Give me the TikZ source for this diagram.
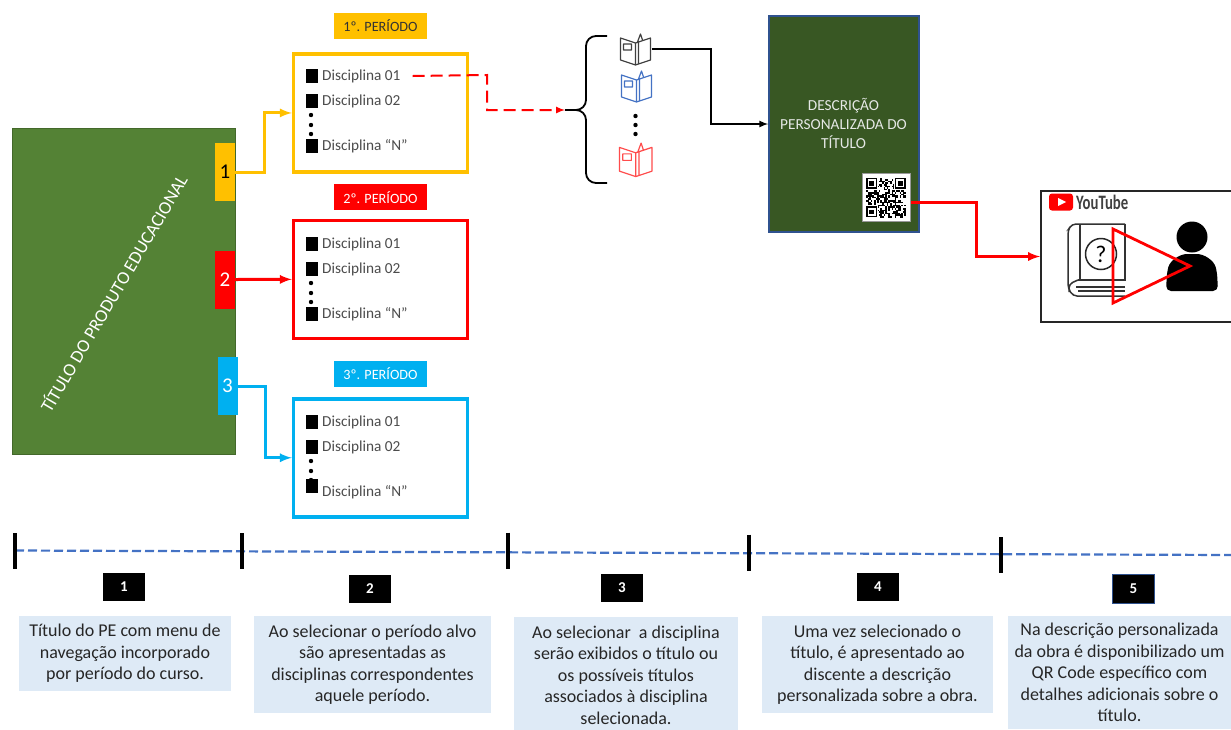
\documentclass[tikz,border=0pt]{standalone}
\usepackage{fontspec}
\setmainfont{Carlito}
\usetikzlibrary{arrows,shapes,positioning}
\usetikzlibrary{calc}
\definecolor{capagreen}{HTML}{548235}
\definecolor{descgreen}{HTML}{385723}
\definecolor{descedge}{HTML}{2F528F}
\definecolor{amarelo}{HTML}{FFC000}
\definecolor{azulclaro}{HTML}{00B0F0}
\definecolor{vermelho}{HTML}{FF0000}
\definecolor{linhaazul}{HTML}{4472C4}
\definecolor{fundoinfo}{HTML}{DEEAF6}
\definecolor{textoinfo}{HTML}{262626}
\tikzstyle{tab} = [
  rectangle, minimum width = 20pt, minimum height = 58pt, inner sep = 0pt,
  font = \fontsize{21}{21}\selectfont
]
\tikzstyle{periodo} = [
  rectangle, minimum width = 93pt, minimum height = 26pt, inner sep = 0pt,
  font = \fontsize{14.2}{14.2}\selectfont
]
\tikzstyle{lista} = [
  rectangle, draw, line width = 3.5pt, minimum width = 174pt, minimum height = 118pt
]
\tikzstyle{disc} = [
  anchor = west, inner sep = 0pt, text = black!70, font = \fontsize{15.3}{15.3}\selectfont
]
\tikzstyle{numero} = [
  rectangle, fill = black, text = white, minimum width = 42pt, minimum height = 28pt,
  inner sep = 0pt, font = \bfseries\fontsize{15}{15}\selectfont
]
\tikzstyle{info} = [
  rectangle, fill = fundoinfo, text = textoinfo, align = center, inner sep = 0pt,
  font = \fontsize{18}{21.5}\selectfont
]
\tikzset{
  bookicon/.pic = {
    \draw[#1, line width = 1.2pt, line join = round]
      (0,5) -- (15,10) -- (15,32) -- (0,27) -- cycle
      (15,10) -- (30,5) -- (30,27) -- (15,32)
      (18,9) -- (18,31)
      (3,11) rectangle (11,17)
      (17,9) -- (20,1) -- (22,7);
  }
}
\begin{document}
\begin{tikzpicture}[x=1pt, y=-1pt]
  \clip (0,0) rectangle (1231,729);
  \fill[white] (0,0) rectangle (1231,729);

  % capa
  \node[rectangle, fill=capagreen, draw=capagreen!80!black, minimum width=223pt, minimum height=326pt, inner sep=0pt] (capa) at (123.5,291) {};
  \node[rotate=59.5, text=white, font=\fontsize{18.2}{18.2}\selectfont] (titulo) at (113,293) {TÍTULO DO PRODUTO EDUCACIONAL};
  \node[tab, fill=amarelo] (tab1) at (225,172) {1};
  \node[tab, fill=vermelho, text=white] (tab2) at (225,279.5) {2};
  \node[tab, fill=azulclaro, text=white] (tab3) at (227.5,386) {3};

  % periodos
  \node[periodo, fill=amarelo, text=black!80] (per1) at (380.5,26) {1º. PERÍODO};
  \node[periodo, fill=vermelho, text=white, below=145pt of per1] (per2) {2º. PERÍODO};
  \node[periodo, fill=azulclaro, text=white, below=150pt of per2] (per3) {3º. PERÍODO};
  \node[lista, draw=amarelo, below=13pt of per1] (box1) {};
  \node[lista, draw=vermelho, below=8pt of per2] (box2) {};
  \node[lista, draw=azulclaro, below=10pt of per3] (box3) {};

  \foreach \nam/\y/\n/\q in {a/75/145/146, b/243/313/314, c/421/491/486} {
    \node[disc] (\nam1) at (322,\y+1) {Disciplina 01};
    \node[disc] (\nam2) at (322,\y+26) {Disciplina 02};
    \node[disc] (\nam3) at (322,\n+1) {Disciplina “N”};
    \fill (312,\y+1) +(-6,-7) rectangle +(6,7);
    \fill (312,\y+26) +(-6,-7) rectangle +(6,7);
    \fill (312,\q) +(-6,-7) rectangle +(6,7);
    \foreach \d in {40,50,59} \fill (311,\y+\d) circle (2.2);
  }

  \draw[-latex, amarelo, line width=3pt] (tab1.east) -- ++(29,0) |- (box1.west);
  \draw[-latex, vermelho, line width=3pt] (tab2.east) -- (box2.west);
  \draw[-latex, azulclaro, line width=3pt] (tab3.east) -- ++(28,0) |- (box3.west);

  % livros
  \coordinate (chave) at (565,110);
  \draw[black, line width=1.8pt] (607,36) -- (596,36) to[out=180, in=90] (586,46) -- (586,100) to[out=-90, in=0] (576,110) -- (chave) (576,110) to[out=0, in=90] (586,120) -- (586,173) to[out=-90, in=180] (596,183) -- (607,183);
  \node[inner sep=0pt, minimum size=32pt] (liv1) at (636,49) {};
  \pic at (620.5,33) {bookicon=black!75};
  \pic at (621.5,70) {bookicon=linhaazul};
  \pic[scale=1.08] at (619.5,142) {bookicon=red!70!white};
  \foreach \y in {116,125,134} \fill (635.5,\y) circle (2.2);

  \draw[-latex, vermelho, line width=2pt, dash pattern=on 12pt off 6pt] ([xshift=12pt]a1.east) -- (487,75) -- (487,110) -- (chave);

  % descricao
  \node[rectangle, fill=descgreen, draw=descedge, line width=1.5pt, minimum width=150pt, minimum height=216pt, inner sep=0pt] (desc) at (844,124) {};
  \node[text=green!10!black!10!white, align=center, font=\fontsize{15.3}{19}\selectfont] (desctxt) at (843.5,123) {DESCRIÇÃO\\PERSONALIZADA DO\\TÍTULO};
  \node[rectangle, fill=white, draw=black!40, line width=1pt, minimum size=48pt, inner sep=0pt] (qr) at (886,197.5) {};
  \begin{scope}[shift={(866,177.5)}]
    \pgfmathsetseed{11}
    \foreach \i in {0,...,24} \foreach \j in {0,...,24} {
      \pgfmathtruncatemacro{\cheio}{rnd<0.5 ? 1 : 0}
      \ifnum\cheio=1 \fill (\i*1.6,\j*1.6) rectangle ++(1.6,1.6); \fi
    }
    \foreach \i/\j in {0/0, 28.8/0, 0/28.8} {
      \fill[white] (\i-1,\j-1) rectangle ++(13,13);
      \draw[line width=1.5pt] (\i+0.8,\j+0.8) rectangle ++(9.6,9.6);
      \fill (\i+3.2,\j+3.2) rectangle ++(4.8,4.8);
    }
  \end{scope}

  \draw[-latex, line width=2pt] (liv1.east) -- (711,49) |- (desc.west);

  % video
  \node[rectangle, draw=black!85, fill=white, line width=2pt, minimum width=210pt, minimum height=131pt, inner sep=0pt] (video) at (1146,256.5) {};
  \draw[-latex, vermelho, line width=3pt] (qr.east) ++(0,4.5) -- (976,202) |- (video.west);
  \node[rectangle, fill=red, rounded corners=3pt, minimum width=24pt, minimum height=17pt, inner sep=0pt] (ytlogo) at (1061,202) {};
  \fill[white] (1058,198) -- (1066,202) -- (1058,206) -- cycle;
  \node[anchor=west, inner sep=0pt, text=black!75, xscale=.72, font=\bfseries\fontsize{20.5}{20.5}\selectfont] (ytnome) at (1076,202.5) {YouTube};
  % livro com pergunta
  \draw[black!80, line width=1.5pt, rounded corners=4pt] (1125,224) -- (1072,224) -- (1068,230) -- (1068,288) -- (1073,296) -- (1125,296);
  \draw[black!80, line width=1.5pt] (1080,224) -- (1080,280) (1125,224) -- (1125,280) -- (1078,280) (1125,287) -- (1076,287) (1125,291) -- (1078,291);
  \draw[black!80, line width=1.5pt, rounded corners=4pt] (1078,280) -- (1069,284) -- (1069,292);
  \node[circle, draw=black!85, line width=1.5pt, minimum size=31pt, inner sep=0pt, font=\fontsize{24}{24}\selectfont] (pergunta) at (1101,254) {?};
  % pessoa
  \fill (1192,237) circle (15.5);
  \fill[rounded corners=5pt] (1166,291) -- (1167,272) to[out=75, in=180] (1192,254) to[out=0, in=105] (1217,272) -- (1218,291) -- cycle;
  \draw[vermelho, line width=2.8pt] (1113,229) -- (1190,266) -- (1113,303) -- cycle;

  % linha do tempo
  \draw[linhaazul, line width=2.2pt, dash pattern=on 9pt off 4pt] (15,550.5) -- (1231,555);
  \foreach \x/\y in {15/551, 242/551, 508/550.5, 749/552.5, 1001/555}
    \draw[black, line width=3.5pt] (\x,\y-18) -- (\x,\y+18);

  \node[numero] (num1) at (124,587) {1};
  \node[numero] (num2) at (370,589) {2};
  \node[numero] (num3) at (622,587.5) {3};
  \node[numero] (num4) at (878,587) {4};
  \node[numero, draw=descedge, line width=1pt, minimum height=29pt] (num5) at (1133.5,588.5) {5};

  \node[info, minimum width=212pt, minimum height=75pt] (inf1) at (125,653.5) {Título do PE com menu de\\navegação incorporado\\por período do curso.};
  \node[info, minimum width=237pt, minimum height=97pt] (inf2) at (372.5,664.5) {Ao selecionar o período alvo\\são apresentadas as\\disciplinas correspondentes\\aquele período.};
  \node[info, minimum width=224pt, minimum height=116pt] (inf3) at (626,675) {Ao selecionar \ a disciplina\\serão exibidos o título ou\\os possíveis títulos\\associados à disciplina\\selecionada.};
  \node[info, minimum width=231pt, minimum height=97pt] (inf4) at (877.5,664.5) {Uma vez selecionado o\\título, é apresentado ao\\discente a descrição\\personalizada sobre a obra.};
  \node[info, minimum width=223pt, minimum height=113pt] (inf5) at (1119.5,672.5) {Na descrição personalizada\\da obra é disponibilizado um\\QR Code específico com\\detalhes adicionais sobre o\\título.};
\end{tikzpicture}
\end{document}
